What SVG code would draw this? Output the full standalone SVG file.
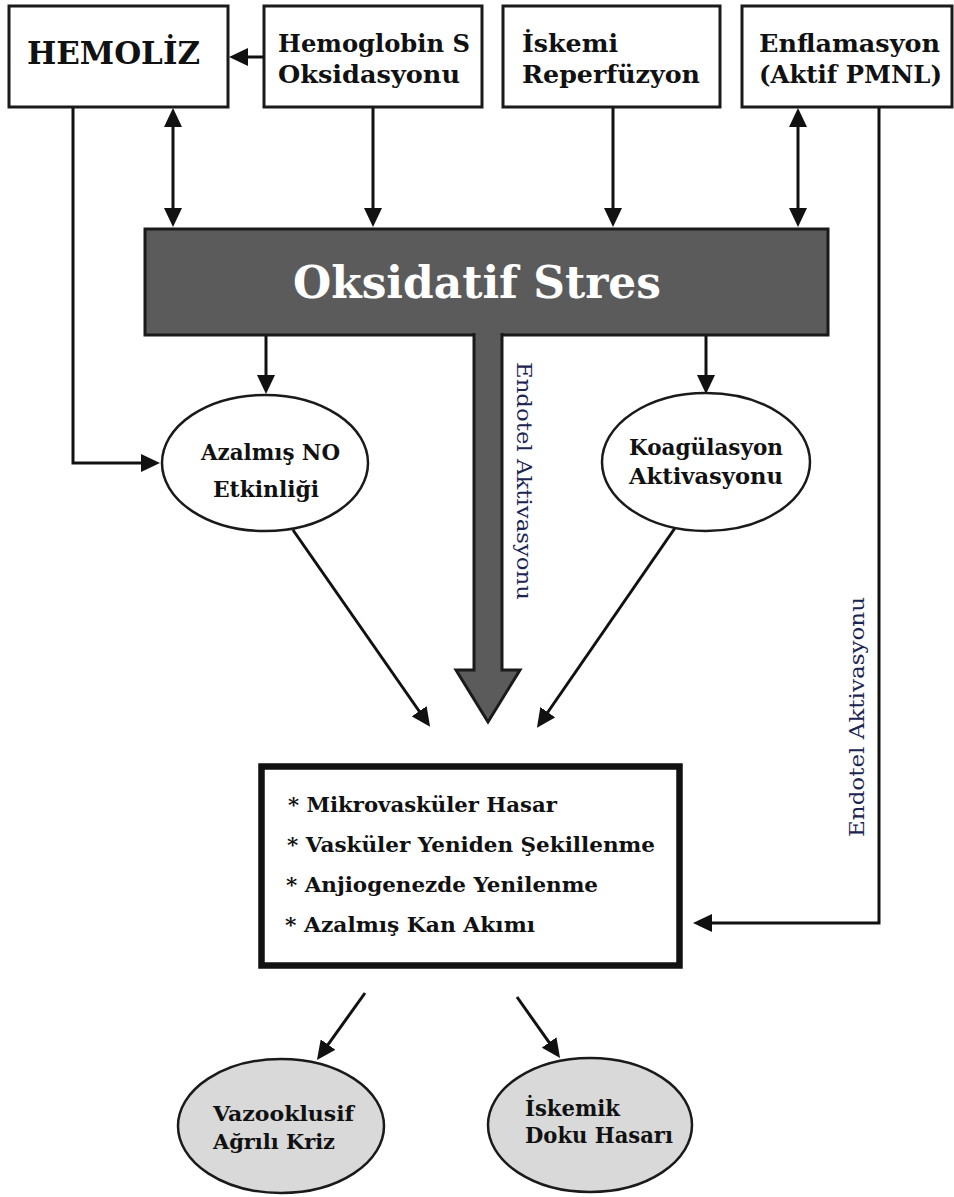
<svg xmlns="http://www.w3.org/2000/svg" width="954" height="1197" viewBox="0 0 954 1197">
<style>
.box{fill:#fff;stroke:#1a1a1a;stroke-width:3}
.ell{fill:#fff;stroke:#1a1a1a;stroke-width:2.5}
.gell{fill:#d9d9d9;stroke:#1a1a1a;stroke-width:2.5}
.t{font-family:"DejaVu Serif","Liberation Serif",serif;font-weight:bold;fill:#111}
.c{fill:none;stroke:#111;stroke-width:3}
.v{font-family:"DejaVu Serif","Liberation Serif",serif;font-size:21px;fill:#1c2552}
</style>
<defs>
<marker id="ah" markerUnits="userSpaceOnUse" markerWidth="19" markerHeight="18" refX="4" refY="9" orient="auto-start-reverse" viewBox="0 0 19 18">
<path d="M0,0 L19,9 L0,18 z" fill="#111"/>
</marker>
</defs>
<rect width="954" height="1197" fill="#fff"/>

<g id="hemoliz">
<rect class="box" x="9" y="6" width="219" height="101"/>
<text class="t" x="27" y="64" font-size="31" textLength="173" lengthAdjust="spacingAndGlyphs">HEMOLİZ</text>
</g>
<g id="hemoglobin">
<rect class="box" x="264" y="6" width="218" height="101"/>
<text class="t" x="278" y="52" font-size="25" textLength="192" lengthAdjust="spacingAndGlyphs">Hemoglobin S</text>
<text class="t" x="278" y="83" font-size="25" textLength="182" lengthAdjust="spacingAndGlyphs">Oksidasyonu</text>
</g>
<g id="iskemi">
<rect class="box" x="503" y="6" width="217" height="101"/>
<text class="t" x="522" y="52" font-size="25" textLength="96" lengthAdjust="spacingAndGlyphs">İskemi</text>
<text class="t" x="522" y="83" font-size="25" textLength="178" lengthAdjust="spacingAndGlyphs">Reperfüzyon</text>
</g>
<g id="enflamasyon">
<rect class="box" x="742" y="6" width="210" height="101"/>
<text class="t" x="759" y="52" font-size="25" textLength="181" lengthAdjust="spacingAndGlyphs">Enflamasyon</text>
<text class="t" x="759" y="83" font-size="25" textLength="183" lengthAdjust="spacingAndGlyphs">(Aktif PMNL)</text>
</g>

<g id="connectors">
<path class="c" d="M264,57 H244" marker-end="url(#ah)"/>
<path class="c" d="M173,123 V212" marker-start="url(#ah)" marker-end="url(#ah)"/>
<path class="c" d="M373,108 V212" marker-end="url(#ah)"/>
<path class="c" d="M613,108 V212" marker-end="url(#ah)"/>
<path class="c" d="M798,123 V212" marker-start="url(#ah)" marker-end="url(#ah)"/>
<path class="c" d="M879,108 V923 H708" marker-end="url(#ah)"/>
<path class="c" d="M73,108 V463 H145" marker-end="url(#ah)"/>
<path class="c" d="M266,336 V379" marker-end="url(#ah)"/>
<path class="c" d="M706,336 V379" marker-end="url(#ah)"/>
<path class="c" d="M293,530 L421.5,714.5" marker-end="url(#ah)"/>
<path class="c" d="M675,528 L545.5,715.5" marker-end="url(#ah)"/>
<path class="c" d="M365,993 L325.7,1047.8" marker-end="url(#ah)"/>
<path class="c" d="M517,997 L551.4,1045.7" marker-end="url(#ah)"/>
</g>

<g id="oksidatif">
<rect x="145" y="229" width="683" height="106" fill="#5b5b5b" stroke="#1a1a1a" stroke-width="3"/>
<path d="M474,333 V670 H456 L488,722 L520,670 H502 V333" fill="#5b5b5b" stroke="#1a1a1a" stroke-width="3"/>
<text x="293" y="298" font-family="DejaVu Serif, Liberation Serif, serif" font-weight="bold" font-size="45" fill="#fff" textLength="368" lengthAdjust="spacingAndGlyphs">Oksidatif Stres</text>
<text class="v" transform="translate(517,362) rotate(90)" textLength="238" lengthAdjust="spacingAndGlyphs">Endotel Aktivasyonu</text>
</g>

<g id="endotel2">
<text class="v" transform="translate(864,837) rotate(-90)" textLength="240" lengthAdjust="spacingAndGlyphs">Endotel Aktivasyonu</text>
</g>

<g id="azalmis-no">
<ellipse class="ell" cx="265" cy="463" rx="103" ry="68"/>
<text class="t" x="201" y="460" font-size="22" textLength="139" lengthAdjust="spacingAndGlyphs">Azalmış NO</text>
<text class="t" x="213" y="497" font-size="22" textLength="106" lengthAdjust="spacingAndGlyphs">Etkinliği</text>
</g>
<g id="koagulasyon">
<ellipse class="ell" cx="706" cy="462" rx="104" ry="69"/>
<text class="t" x="629" y="455" font-size="22" textLength="154" lengthAdjust="spacingAndGlyphs">Koagülasyon</text>
<text class="t" x="629" y="484" font-size="22" textLength="154" lengthAdjust="spacingAndGlyphs">Aktivasyonu</text>
</g>

<g id="sonuclar">
<rect x="261.5" y="766.5" width="418" height="199" fill="#fff" stroke="#111" stroke-width="6.5"/>
<text class="t" x="288" y="812" font-size="20" textLength="269" lengthAdjust="spacingAndGlyphs">* Mikrovasküler Hasar</text>
<text class="t" x="287" y="852" font-size="20" textLength="368" lengthAdjust="spacingAndGlyphs">* Vasküler Yeniden Şekillenme</text>
<text class="t" x="286" y="892" font-size="20" textLength="312" lengthAdjust="spacingAndGlyphs">* Anjiogenezde Yenilenme</text>
<text class="t" x="285" y="932" font-size="20" textLength="250" lengthAdjust="spacingAndGlyphs">* Azalmış Kan Akımı</text>
</g>

<g id="vazooklusif">
<ellipse class="gell" cx="281" cy="1126" rx="103" ry="67"/>
<text class="t" x="213" y="1121" font-size="21" textLength="141" lengthAdjust="spacingAndGlyphs">Vazooklusif</text>
<text class="t" x="213" y="1149" font-size="21" textLength="122" lengthAdjust="spacingAndGlyphs">Ağrılı Kriz</text>
</g>
<g id="iskemik">
<ellipse class="gell" cx="590" cy="1125" rx="102" ry="67"/>
<text class="t" x="525" y="1116" font-size="22" textLength="95" lengthAdjust="spacingAndGlyphs">İskemik</text>
<text class="t" x="525" y="1143" font-size="22" textLength="148" lengthAdjust="spacingAndGlyphs">Doku Hasarı</text>
</g>
</svg>
